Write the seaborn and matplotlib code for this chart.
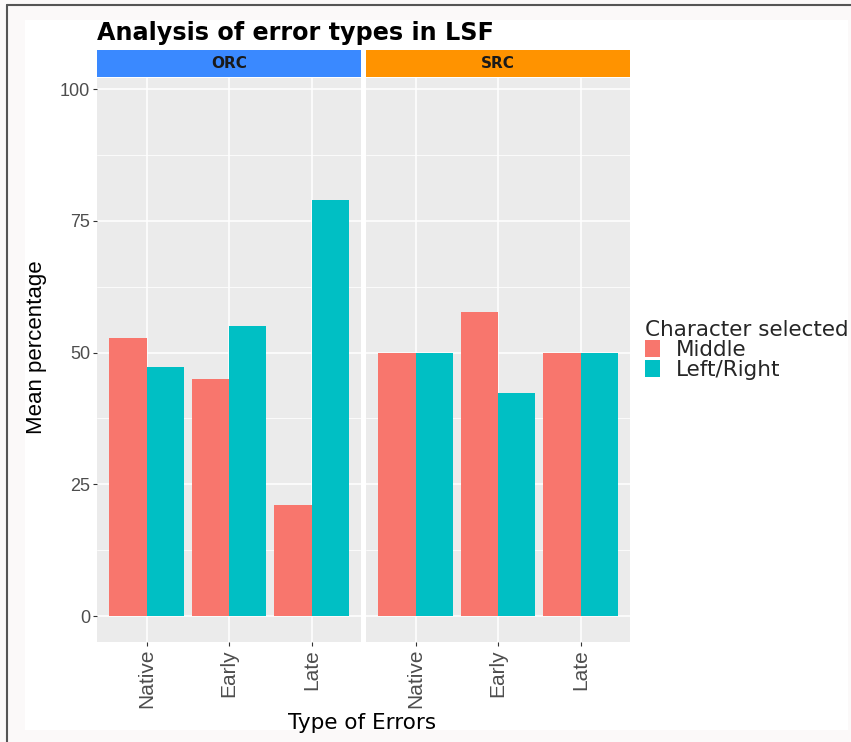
#Import libraries
import numpy as np
import pandas as pd
import matplotlib.pyplot as plt
import seaborn as sns
from matplotlib.patches import Patch, Rectangle
from matplotlib.lines import Line2D

#Chart data
clauses = ['ORC', 'SRC']
error_types = ['Native', 'Early', 'Late']
characters = ['Middle', 'Left/Right']
orc_middle = [52.8, 45.0, 21.1]
orc_leftright = [47.2, 55.0, 78.9]
src_middle = [50.0, 57.7, 50.0]
src_leftright = [50.0, 42.3, 50.0]
y_ticks = [0, 25, 50, 75, 100]

bar_colors = ['#F8766D', '#00BFC4']
strip_colors = ['#3A89FF', '#FF9300']

#Long format table for seaborn
rows = []
for clause, mid, lr in [('ORC', orc_middle, orc_leftright), ('SRC', src_middle, src_leftright)]:
    for t, m, l in zip(error_types, mid, lr):
        rows.append([clause, t, 'Middle', m])
        rows.append([clause, t, 'Left/Right', l])
df = pd.DataFrame(rows, columns=['Clause', 'Type', 'Character', 'Mean'])

sns.set_theme(style='darkgrid', rc={'axes.facecolor': '#EBEBEB', 'grid.color': 'white'})
plt.rcParams['font.family'] = ['Liberation Sans', 'DejaVu Sans']
wide = ['DejaVu Sans']  # wider face for horizontal texts (reference looks stretched)

W, H = 851, 742
fig = plt.figure(figsize=(W / 100, H / 100), dpi=100)
fig.patch.set_facecolor('#FBF9F9')
fig.add_artist(Rectangle((25 / W, 1 - 730 / H), (848 - 25) / W, (730 - 20) / H,
                         transform=fig.transFigure, facecolor='white', edgecolor='none', zorder=-1))
#screenshot frame lines
fig.add_artist(Line2D([7 / W, 1], [1 - 5 / H] * 2, color='#555555', lw=1.5, transform=fig.transFigure))
fig.add_artist(Line2D([7 / W] * 2, [0, 1 - 5 / H], color='#555555', lw=1.5, transform=fig.transFigure))

lefts = [97 / W, 366 / W]
pw = 264 / W
pb = 1 - 642 / H
ph = 564 / H

for i, clause in enumerate(clauses):
    ax = fig.add_axes([lefts[i], pb, pw, ph])
    sub = df[df['Clause'] == clause]
    sns.barplot(data=sub, x='Type', y='Mean', hue='Character', order=error_types,
                hue_order=characters, palette=bar_colors, width=0.9, saturation=1,
                errorbar=None, legend=False, ax=ax, edgecolor='none', linewidth=0)
    ax.set_facecolor('#EBEBEB')
    ax.set_axisbelow(True)
    ax.set_xlim(-0.6, 2.6)
    ax.set_ylim(-4.93, 102.1)
    ax.set_yticks(y_ticks)
    ax.set_yticks([12.5, 37.5, 62.5, 87.5], minor=True)
    ax.grid(which='major', color='white', lw=1.1)
    ax.grid(which='minor', axis='y', color='white', lw=0.55)
    for s in ax.spines.values():
        s.set_visible(False)
    ax.set_xlabel('')
    ax.set_ylabel('')
    ax.tick_params(which='minor', length=0)
    ax.tick_params(axis='both', which='major', length=3, width=0.8, color='#333333',
                   labelcolor='#4D4D4D', pad=2, bottom=True, left=True)
    ax.tick_params(axis='x', labelsize=15, labelrotation=90)
    ax.tick_params(axis='y', labelsize=13)
    if i == 1:
        ax.tick_params(axis='y', left=False, labelleft=False)

    #facet strip
    sax = fig.add_axes([lefts[i], 1 - 77 / H, pw, 27 / H])
    sax.set_facecolor(strip_colors[i])
    sax.set_xticks([])
    sax.set_yticks([])
    sax.grid(False)
    for s in sax.spines.values():
        s.set_visible(False)
    sax.text(0.5, 0.5, clause, ha='center', va='center', fontsize=11, family=wide,
             fontweight='bold', color='#1A1A1A', transform=sax.transAxes)

#Titles
fig.text(97 / W, 1 - 40 / H, 'Analysis of error types in LSF', fontsize=17.2, family=wide,
         fontweight='bold', va='baseline', color='black')
fig.text(37 / W, 1 - 347 / H, 'Mean percentage', rotation=90, fontsize=16,
         ha='center', va='center', color='black')
fig.text(362 / W, 1 - 723 / H, 'Type of Errors', fontsize=15.5, family=wide,
         ha='center', va='center', color='black')

#Legend
handles = [Patch(facecolor=c, edgecolor='none', label=l) for c, l in zip(bar_colors, characters)]
leg = fig.legend(handles=handles, title='Character selected', loc='upper left',
                 bbox_to_anchor=(645 / W, 1 - 320 / H), frameon=False,
                 prop={'family': wide, 'size': 15.5},
                 title_fontproperties={'family': wide, 'size': 15.5},
                 handlelength=0.7, handleheight=0.84, labelspacing=0.0,
                 handletextpad=0.75, borderpad=0, borderaxespad=0, alignment='left')

plt.savefig('out.png', dpi=100)
